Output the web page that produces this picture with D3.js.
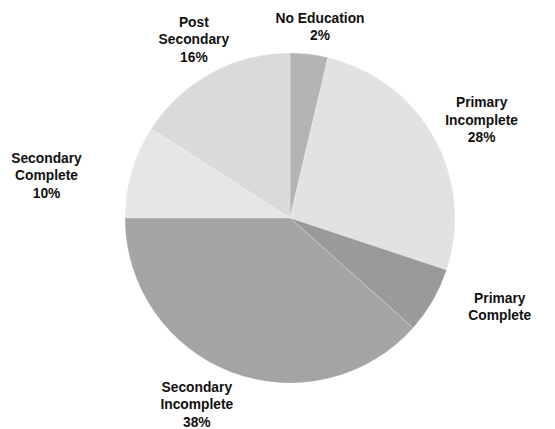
<!DOCTYPE html>
<html>
<head>
<meta charset="utf-8">
<script src="https://cdn.jsdelivr.net/npm/d3@7"></script>
<style>
  body { margin: 0; background: #fff; }
  text { font-family: "Liberation Sans", Arial, sans-serif; font-weight: bold; font-size: 13.8px; fill: #111; }
</style>
</head>
<body>
<svg id="chart" width="555" height="429"></svg>
<script>
// slice sizes (clockwise from 12 o'clock)
const categories = ['No Education', 'Primary Incomplete', 'Primary Complete', 'Secondary Incomplete', 'Secondary Complete', 'Post Secondary'];
const values = [3.7, 26.4, 6.5, 38.4, 9.1, 15.9];
// printed labels (as shown in the chart)
const labelLines = [
  ['No Education', '2%'],
  ['Primary', 'Incomplete', '28%'],
  ['Primary', 'Complete'],
  ['Secondary', 'Incomplete', '38%'],
  ['Secondary', 'Complete', '10%'],
  ['Post', 'Secondary', '16%']
];
const colors = ['#b4b4b4', '#e2e2e2', '#9a9a9a', '#a4a4a4', '#e6e6e6', '#dadada'];

const cx = 290, cy = 218, radius = 165;

const svg = d3.select('#chart');
const g = svg.append('g')
  .attr('transform', `translate(${cx}, ${cy})`);

const pie = d3.pie().sort(null).value(d => d);
const arcs = pie(values);

const arc = d3.arc().innerRadius(0).outerRadius(radius);

const color = d3.scaleOrdinal()
  .domain(categories)
  .range(colors);

g.selectAll('path')
  .data(arcs)
  .enter()
  .append('path')
  .attr('d', arc)
  .attr('fill', (d, i) => color(categories[i]))
  .attr('stroke', 'rgba(255,255,255,0.35)')
  .attr('stroke-width', 0.6);

// label placement: distance from centre and a small angle nudge (degrees) per slice
const labelR = [193, 215, 228, 209, 247, 202];
const labelShift = [2.3, 2.2, -7, 5.6, -6.7, 0.2];

const lineH = 17.5;
const labels = g.selectAll('text.lbl')
  .data(arcs)
  .enter()
  .append('text')
  .attr('class', 'lbl')
  .attr('text-anchor', 'middle')
  .attr('transform', (d, i) => {
    const a = (d.startAngle + d.endAngle) / 2 + labelShift[i] * Math.PI / 180;
    const r = labelR[i];
    const x = Math.sin(a) * r;
    const y = -Math.cos(a) * r;
    const n = labelLines[i].length;
    return `translate(${x}, ${y - (n - 1) * lineH / 2 + 4})`;
  });

labels.selectAll('tspan')
  .data((d, i) => labelLines[i])
  .enter()
  .append('tspan')
  .attr('x', 0)
  .attr('dy', (d, j) => j === 0 ? 0 : lineH)
  .text(d => d);
</script>
</body>
</html>
